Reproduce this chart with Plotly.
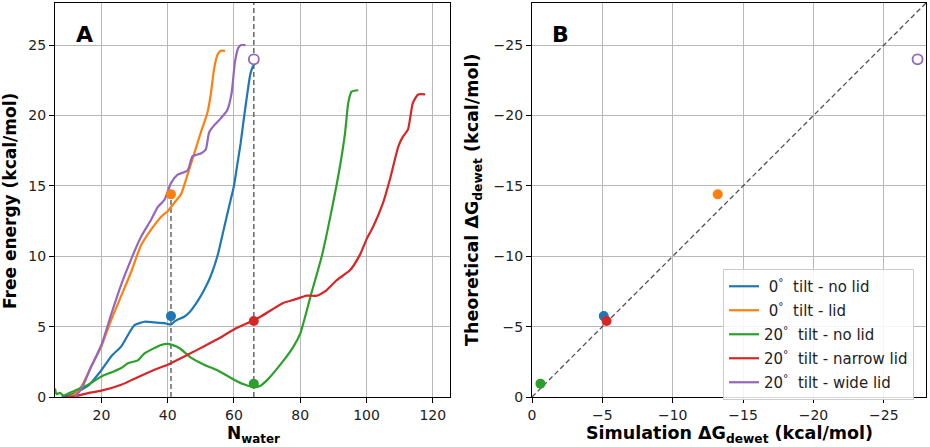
import plotly.graph_objects as go

# ---------------- data ----------------
labels = ["\u00a00<sup>°</sup>\u00a0\u00a0tilt - no lid",
          "\u00a00<sup>°</sup>\u00a0\u00a0tilt - lid",
          "20<sup>°</sup>\u00a0\u00a0tilt - no lid",
          "20<sup>°</sup>\u00a0\u00a0tilt - narrow lid",
          "20<sup>°</sup>\u00a0\u00a0tilt - wide lid"]
colors = ["#1f77b4", "#ff7f0e", "#2ca02c", "#d62728", "#9467bd"]

blue_n = [8, 10, 13, 16, 20, 23, 26, 28, 30, 33, 36, 39, 41, 42, 43, 45, 46.5, 49, 51, 53, 55, 57, 59, 60, 61, 62, 63, 64, 65, 66, 67, 67.5]
blue_f = [0, 0.1, 0.4, 0.8, 1.9, 2.9, 3.6, 4.4, 5.1, 5.35, 5.3, 5.25, 5.15, 5.35, 5.5, 5.7, 6.0, 6.8, 7.6, 8.6, 10.0, 12.0, 14.0, 15.0, 16.5, 18.0, 19.8, 21.5, 23.0, 23.6, 23.8, 23.8]

orange_n = [10, 12, 14, 17, 20, 23, 26, 29, 32, 35, 38, 40, 42, 44, 46, 48, 50, 52, 53, 54, 55, 56, 57.3]
orange_f = [0, 0.2, 0.75, 2.2, 3.6, 5.5, 7.2, 8.9, 10.8, 11.9, 12.8, 13.2, 13.8, 14.4, 15.8, 17.3, 18.8, 20.2, 21.5, 23.3, 24.3, 24.6, 24.6]

green_n = [6, 6.5, 7.5, 8.5, 10, 12, 16, 20, 23, 26, 28, 31, 33, 36, 38, 40, 42, 43.5, 45.5, 47, 51, 55, 60, 63, 66, 68, 70, 75, 78, 80, 83.4, 86.5, 89.5, 92, 93.5, 94.5, 95.5, 97.5]
green_f = [0.6, 0.2, 0.3, 0.1, 0.25, 0.45, 0.87, 1.46, 1.75, 2.06, 2.4, 2.6, 3.1, 3.48, 3.7, 3.78, 3.65, 3.48, 3.1, 2.8, 2.3, 1.9, 1.23, 0.9, 0.7, 0.8, 1.2, 2.6, 3.6, 4.5, 7.4, 10.0, 13.3, 16.4, 18.7, 20.9, 21.7, 21.8]

red_n = [9, 12, 16, 20, 26, 30, 36, 40, 46, 51, 55, 60, 66, 68, 75, 78, 82, 85, 88, 91, 95, 98, 100, 102, 105, 107, 109.6, 111, 112.5, 114, 115.6, 117.7]
red_f = [0, 0.05, 0.28, 0.45, 0.87, 1.3, 1.94, 2.3, 3.0, 3.6, 4.1, 4.8, 5.45, 5.7, 6.7, 6.9, 7.2, 7.2, 7.6, 8.3, 9.0, 10.1, 11.2, 12.1, 13.8, 15.4, 17.8, 18.5, 19.0, 20.9, 21.5, 21.5]

purple_n = [12, 14, 17, 20, 23, 26, 29, 32, 35, 37, 39, 41, 43, 46, 47.5, 50, 51.5, 52.5, 54, 56, 58, 59.3, 60.3, 61.3, 62, 63.5]
purple_f = [0, 0.6, 2.2, 3.7, 5.9, 8.0, 9.8, 11.4, 12.6, 13.5, 14.0, 15.2, 15.8, 16.1, 17.1, 17.3, 17.6, 18.8, 19.3, 19.8, 20.4, 21.6, 23.8, 24.8, 25.0, 25.0]

curves_n = [blue_n, orange_n, green_n, red_n, purple_n]
curves_f = [blue_f, orange_f, green_f, red_f, purple_f]

# dewetting points: N_water where read, theoretical and simulated dG
point_n = [41, 41, 66, 66, 66]
theory_dg = [5.75, 14.4, 0.95, 5.4, 24.0]          # free energy at marker (panel A)
sim_dg = [-5.1, -13.2, -0.6, -5.3, -27.4]          # panel B x
theory_neg = [-v for v in theory_dg]               # panel B y
open_marker = [False, False, False, False, True]

vline_x = [41, 66]
vline_top = [14.4, 28]

xA_range = [6, 125.2]
yA_range = [0, 28]
B_lim = [0, -28]
ticksA_x = [20, 40, 60, 80, 100, 120]
ticksA_y = [0, 5, 10, 15, 20, 25]
ticksB = [0, -5, -10, -15, -20, -25]

# ---------------- figure ----------------
fig = go.Figure()
FONT = "DejaVu Sans"
dash_col = "#505050"
DASH = "5px,3px"

# vertical dashed guides in panel A
for vx, vt in zip(vline_x, vline_top):
    fig.add_trace(go.Scatter(x=[vx, vx], y=[0, vt], mode="lines",
                             line=dict(color=dash_col, width=1.3, dash=DASH),
                             showlegend=False, hoverinfo="skip", xaxis="x", yaxis="y"))

# curves in panel A
for i in range(5):
    fig.add_trace(go.Scatter(x=curves_n[i], y=curves_f[i], mode="lines",
                             line=dict(color=colors[i], width=2.2, shape="spline", smoothing=0.6),
                             name=labels[i], legendgroup=f"g{i}",
                             xaxis="x", yaxis="y"))

# markers in panel A
for i in range(5):
    mk = dict(size=10, color="white" if open_marker[i] else colors[i],
              line=dict(color=colors[i], width=1.8 if open_marker[i] else 0))
    fig.add_trace(go.Scatter(x=[point_n[i]], y=[theory_dg[i]], mode="markers",
                             marker=mk, showlegend=False, cliponaxis=False,
                             xaxis="x", yaxis="y"))

# panel B diagonal
fig.add_trace(go.Scatter(x=B_lim, y=B_lim, mode="lines",
                         line=dict(color=dash_col, width=1.3, dash=DASH),
                         showlegend=False, hoverinfo="skip", xaxis="x2", yaxis="y2"))
# panel B markers
for i in range(5):
    mk = dict(size=10, color="white" if open_marker[i] else colors[i],
              line=dict(color=colors[i], width=1.8 if open_marker[i] else 0))
    fig.add_trace(go.Scatter(x=[sim_dg[i]], y=[theory_neg[i]], mode="markers",
                             marker=mk, showlegend=False, cliponaxis=False,
                             xaxis="x2", yaxis="y2"))

W, H = 930, 447
axis_common = dict(showline=True, mirror=True, linecolor="black", linewidth=1.2,
                   showgrid=True, gridcolor="#b8b8b8", gridwidth=1,
                   ticks="outside", ticklen=5, tickcolor="black", tickwidth=1.2,
                   zeroline=False, automargin=False,
                   tickfont=dict(family=FONT, size=14, color="#222222"))
ydom = [(H - 397) / H, (H - 3) / H]

fig.update_layout(
    width=W, height=H,
    margin=dict(l=0, r=0, t=0, b=0, autoexpand=False),
    paper_bgcolor="white", plot_bgcolor="white",
    font=dict(family=FONT, color="#222222"),
    xaxis=dict(domain=[55 / W, 450 / W], range=xA_range, tickvals=ticksA_x, anchor="y", **axis_common),
    yaxis=dict(domain=ydom, range=yA_range, tickvals=ticksA_y, anchor="x", **axis_common),
    xaxis2=dict(domain=[532 / W, 926 / W], range=B_lim, tickvals=ticksB, anchor="y2", **axis_common),
    yaxis2=dict(domain=ydom, range=B_lim, tickvals=ticksB, anchor="x2", **axis_common),
    showlegend=True,
    legend=dict(x=723 / W, y=1 - 269 / H, xanchor="left", yanchor="top",
                bgcolor="rgba(255,255,255,0.85)", bordercolor="#cccccc", borderwidth=1,
                font=dict(family=FONT, size=15, color="#222222"),
                tracegroupgap=1.5, traceorder="grouped", itemwidth=30),
)

ann = [
    dict(text="<b>A</b>", x=84 / W, y=1 - 34 / H, font=dict(size=22, color="black")),
    dict(text="<b>B</b>", x=560 / W, y=1 - 34 / H, font=dict(size=22, color="black")),
    dict(text="<b>Free energy (kcal/mol)</b>", x=10 / W, y=1 - 201 / H, textangle=-90,
         font=dict(size=17, color="black")),
    dict(text="<b>N<sub>water</sub></b>", x=253 / W, y=1 - 434 / H,
         font=dict(size=17, color="black")),
    dict(text="<b>Theoretical ΔG<sub>dewet</sub> (kcal/mol)</b>", x=473 / W, y=1 - 200 / H,
         textangle=-90, font=dict(size=17.5, color="black")),
    dict(text="<b>Simulation ΔG<sub>dewet</sub> (kcal/mol)</b>", x=729 / W, y=1 - 434 / H,
         font=dict(size=17.5, color="black")),
]
for a in ann:
    a.update(xref="paper", yref="paper", showarrow=False, xanchor="center", yanchor="middle")
    a["font"]["family"] = FONT
fig.update_layout(annotations=ann)

fig.write_html("out.html", config={"displayModeBar": False},
               post_script="document.body.style.margin='0';document.body.style.overflow='hidden';")
